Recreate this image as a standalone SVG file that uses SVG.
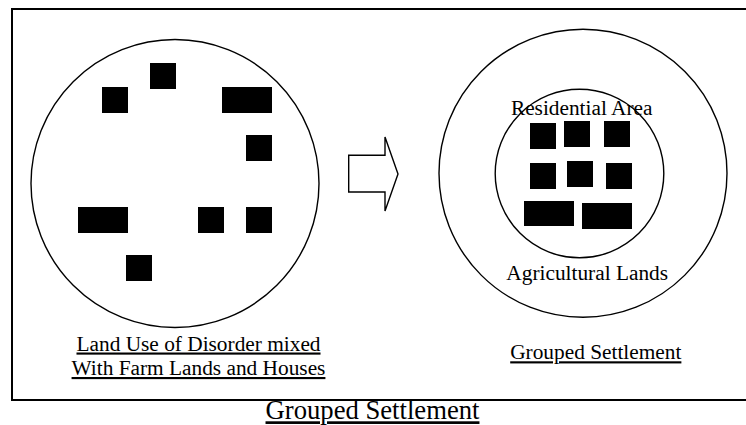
<svg xmlns="http://www.w3.org/2000/svg" width="746" height="425" viewBox="0 0 746 425">
<style>
text{font-family:"Liberation Serif","Times New Roman",serif;fill:#000;text-anchor:middle}
.lbl{font-size:21.33px}
.ttl{font-size:26.67px}
.u{text-decoration:underline}
.ln{fill:none;stroke:#000;stroke-width:1.4}
.h{fill:#000}
</style>
<rect x="12" y="9" width="750" height="391" fill="none" stroke="#000" stroke-width="2"/>
<g id="disorder">
<circle class="ln" cx="175" cy="183.5" r="144"/>
<rect class="h" x="150" y="63" width="26" height="26"/>
<rect class="h" x="102" y="87" width="26" height="26"/>
<rect class="h" x="222" y="87" width="50" height="26"/>
<rect class="h" x="246" y="135" width="26" height="26"/>
<rect class="h" x="78" y="207" width="50" height="26"/>
<rect class="h" x="198" y="207" width="26" height="26"/>
<rect class="h" x="246" y="207" width="26" height="26"/>
<rect class="h" x="126" y="255" width="26" height="26"/>
<text class="lbl u" x="198.5" y="350.5">Land Use of Disorder mixed</text>
<text class="lbl u" x="198.5" y="375">With Farm Lands and Houses</text>
</g>
<g id="connectors">
<path class="ln" d="M348.7,155.3 H385 V137 L398,174 L385,211 V192 H348.7 Z"/>
</g>
<g id="grouped">
<circle class="ln" cx="583" cy="173.3" r="144"/>
<circle class="ln" cx="579.5" cy="173.5" r="84.3"/>
<rect class="h" x="530" y="123" width="26" height="26"/>
<rect class="h" x="564" y="121" width="26" height="26"/>
<rect class="h" x="604" y="121" width="26" height="26"/>
<rect class="h" x="530" y="163" width="26" height="26"/>
<rect class="h" x="567" y="161" width="26" height="26"/>
<rect class="h" x="606" y="163" width="26" height="26"/>
<rect class="h" x="524" y="201" width="50" height="25"/>
<rect class="h" x="582" y="203" width="50" height="26"/>
<text class="lbl" x="581.7" y="115">Residential Area</text>
<text class="lbl" x="587.2" y="280">Agricultural Lands</text>
<text class="lbl u" x="595.8" y="359.3">Grouped Settlement</text>
</g>
<text class="ttl u" x="372.5" y="419.3">Grouped Settlement</text>
</svg>
